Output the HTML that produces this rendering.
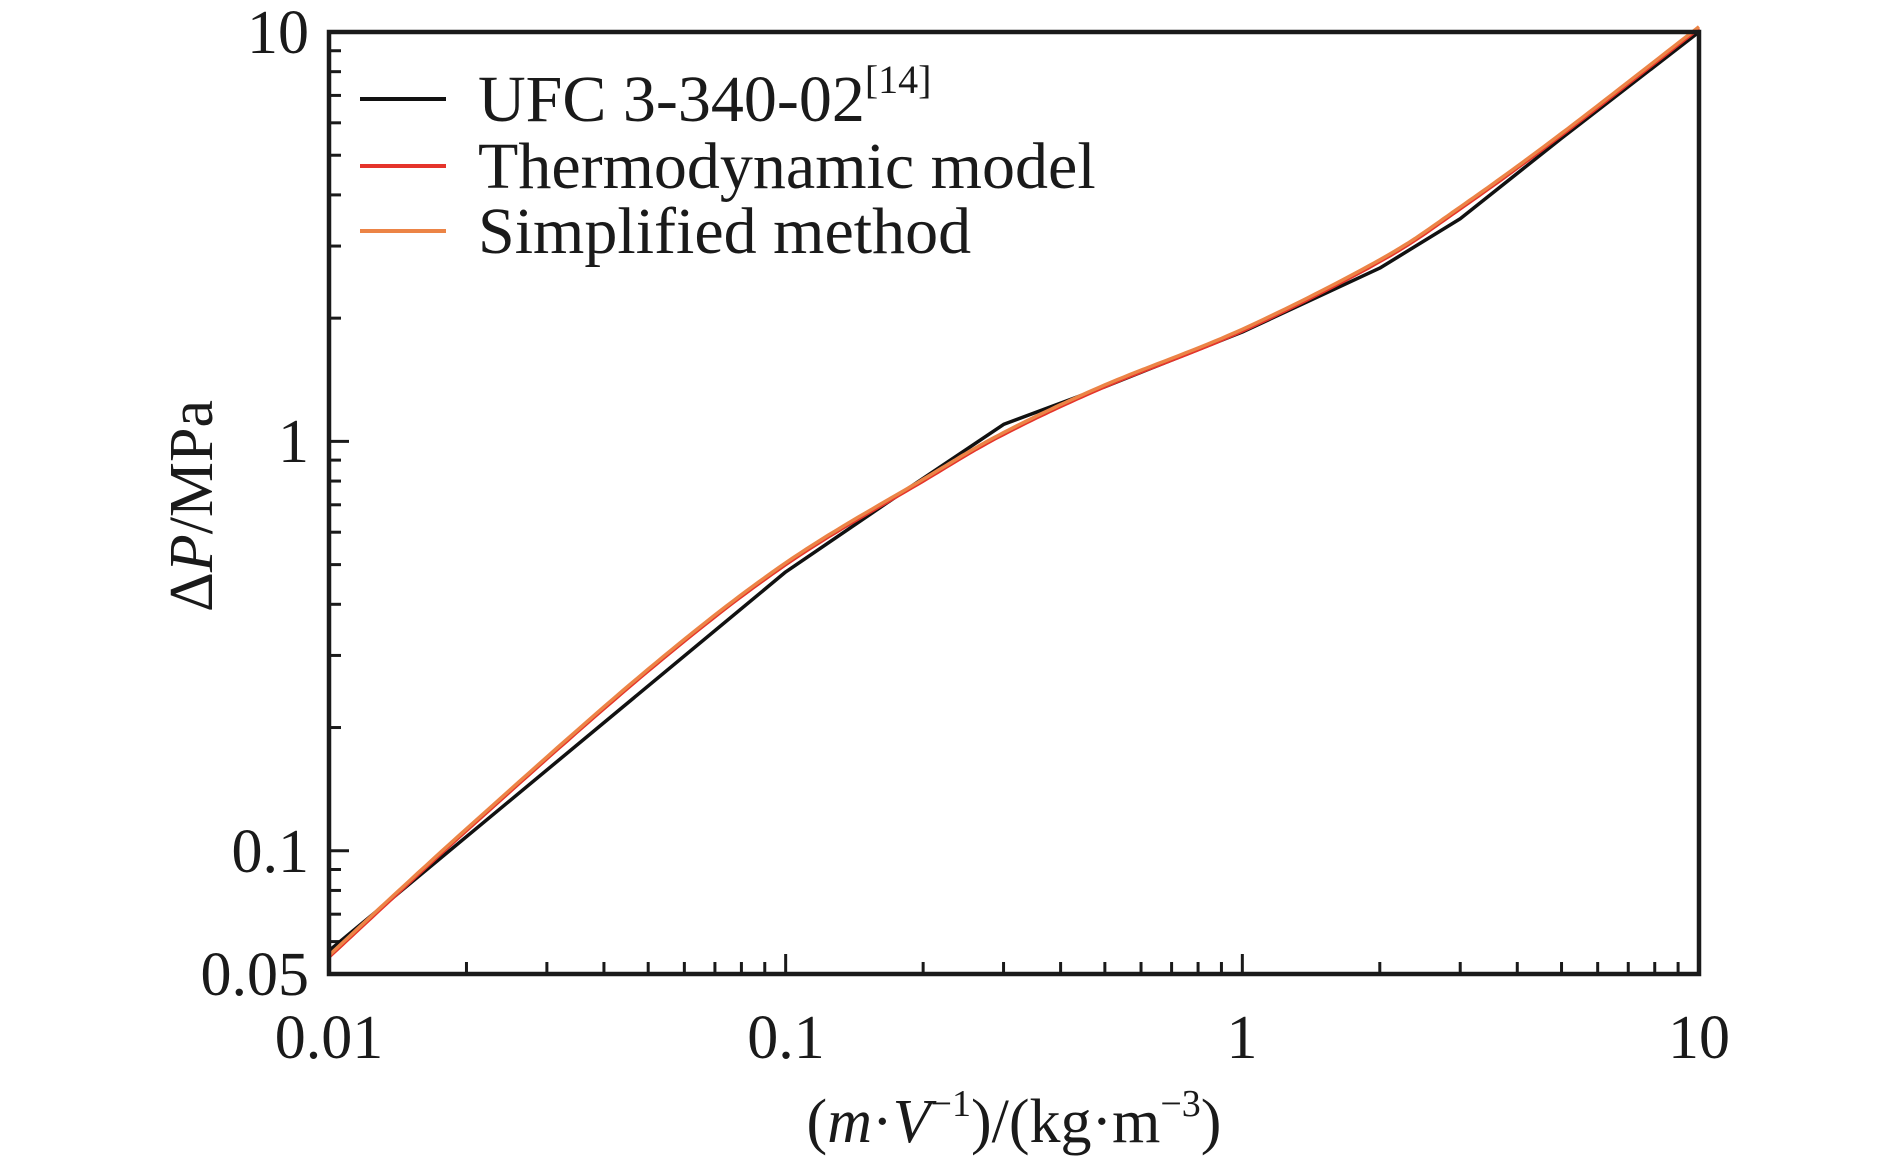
<!DOCTYPE html>
<html><head><meta charset="utf-8"><style>
html,body{margin:0;padding:0;background:#fff;}
svg{display:block;font-family:"Liberation Serif",serif;}
</style></head><body>
<svg id="s" width="1890" height="1158" viewBox="0 0 1890 1158" xmlns="http://www.w3.org/2000/svg">
<g id="ticks" stroke="#1a1a1a" stroke-width="3"></g>
<g id="series" fill="none" stroke-width="3.5" stroke-linejoin="round"></g>
<rect x="329" y="32" width="1370" height="942" fill="none" stroke="#1a1a1a" stroke-width="4.5"/>
<g font-size="62" fill="#1a1a1a">
<text x="309" y="53" text-anchor="end">10</text>
<text x="309" y="462" text-anchor="end">1</text>
<text x="309" y="872" text-anchor="end">0.1</text>
<text x="309" y="995" text-anchor="end">0.05</text>
<text x="329" y="1058" text-anchor="middle">0.01</text>
<text x="786" y="1058" text-anchor="middle">0.1</text>
<text x="1242" y="1058" text-anchor="middle">1</text>
<text x="1699" y="1058" text-anchor="middle">10</text>
<text x="1014" y="1142" text-anchor="middle">(<tspan font-style="italic">m</tspan>·<tspan font-style="italic">V</tspan><tspan font-size="38" dy="-26">−1</tspan><tspan dy="26">)/(kg·m</tspan><tspan font-size="38" dy="-26">−3</tspan><tspan dy="26">)</tspan></text>
<text transform="translate(212,506) rotate(-90)" text-anchor="middle">Δ<tspan font-style="italic">P</tspan>/MPa</text>
</g>
<g font-size="66" fill="#1a1a1a">
<line x1="360" y1="99" x2="446" y2="99" stroke="#111" stroke-width="4"/>
<line x1="360" y1="166" x2="446" y2="166" stroke="#e5342b" stroke-width="4"/>
<line x1="360" y1="231" x2="446" y2="231" stroke="#ec8446" stroke-width="4"/>
<text x="478" y="121">UFC 3-340-02<tspan font-size="40" dy="-28">[14]</tspan></text>
<text x="478" y="188"><tspan dy="0">Thermodynamic model</tspan></text>
<text x="478" y="253">Simplified method</text>
</g>
</svg>
<script>
var L=329,R=1699,T=32,B=974;
function X(v){return L+(Math.log10(v)+2)*(R-L)/3;}
function Y(v){return T+(1-Math.log10(v))*(B-T)/Math.log10(200);}
var ns="http://www.w3.org/2000/svg",tk=document.getElementById('ticks');
function ln(x1,y1,x2,y2){var l=document.createElementNS(ns,'line');l.setAttribute('x1',x1);l.setAttribute('y1',y1);l.setAttribute('x2',x2);l.setAttribute('y2',y2);tk.appendChild(l);}
[0.01,0.1,1,10].forEach(function(d){for(var k=1;k<10;k++){var v=d*k;if(v>10.001)break;var x=X(v),len=k==1?20:12;ln(x,B,x,B-len);}});
[0.01,0.1,1].forEach(function(d){for(var k=1;k<10;k++){var v=d*k;if(v<0.0499||v>10.001)continue;var y=Y(v),len=(k==1)?20:12;ln(L,y,L+len,y);}});
function smooth(pts){var lp=pts.map(function(p){return[Math.log10(p[0]),Math.log10(p[1])];});var out=[];
for(var i=0;i<lp.length-1;i++){var p0=lp[Math.max(i-1,0)],p1=lp[i],p2=lp[i+1],p3=lp[Math.min(i+2,lp.length-1)];
for(var t=0;t<1;t+=0.05){var t2=t*t,t3=t2*t;var f=function(a,b,c,d){return 0.5*((2*b)+(-a+c)*t+(2*a-5*b+4*c-d)*t2+(-a+3*b-3*c+d)*t3);};
out.push([Math.pow(10,f(p0[0],p1[0],p2[0],p3[0])),Math.pow(10,f(p0[1],p1[1],p2[1],p3[1]))]);}}
out.push(pts[pts.length-1]);return out;}
function path(pts,col,w){var p=document.createElementNS(ns,'polyline');p.setAttribute('points',pts.map(function(q){return X(q[0]).toFixed(1)+','+Y(q[1]).toFixed(1);}).join(' '));p.setAttribute('stroke',col);p.setAttribute('stroke-width',w);document.getElementById('series').appendChild(p);}
var ufc=[[0.01,0.057],[0.1,0.48],[0.18,0.75],[0.3,1.1],[0.5,1.36],[1,1.85],[2,2.65],[3,3.5],[5,5.5],[10,10]];
var sm=smooth([[0.01,0.055],[0.02,0.112],[0.05,0.275],[0.1,0.5],[0.2,0.8],[0.3,1.04],[0.5,1.36],[1,1.86],[2,2.75],[3,3.7],[5,5.6],[10,10.2]]);
path(ufc,'#111',3.5);
path(sm,'#e5342b',3.5);
path(sm.map(function(p){return[p[0],p[1]*1.01];}),'#ec8446',3.5);
</script>
</body></html>
